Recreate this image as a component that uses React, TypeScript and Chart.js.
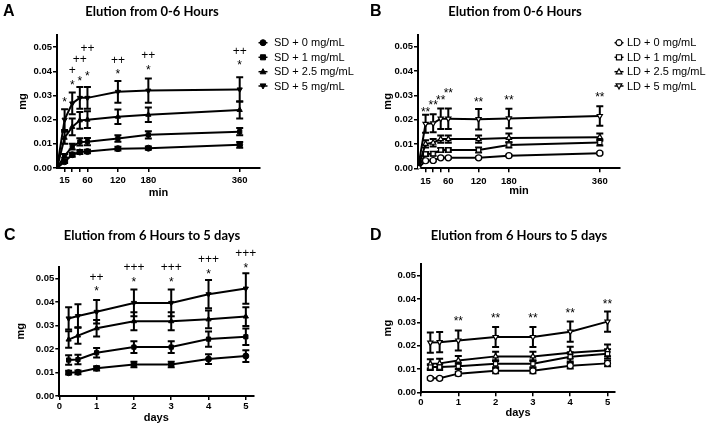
import React, { useEffect, useRef } from "react";
import { Chart, registerables } from "chart.js";
Chart.register(...registerables);

// ---------- data ----------
const minutes = [0, 15, 30, 45, 60, 120, 180, 360];
const minuteTicks = [15, 30, 45, 60, 120, 180, 360];
const minuteLabels = [15, 60, 120, 180, 360];
const days = [0.25, 0.5, 1, 2, 3, 4, 5];
const dayTicks = [0, 1, 2, 3, 4, 5];
const dayLabels = [0, 1, 2, 3, 4, 5];
const mgTicks = [0, 0.01, 0.02, 0.03, 0.04, 0.05];

const sdLabels = ["SD + 0 mg/mL", "SD + 1 mg/mL", "SD + 2.5 mg/mL", "SD + 5 mg/mL"];
const ldLabels = ["LD + 0 mg/mL", "LD + 1 mg/mL", "LD + 2.5 mg/mL", "LD + 5 mg/mL"];

// Panel A (SD, 0-6 h)
const aSD0 = [0, 0.0026, 0.0055, 0.0066, 0.0068, 0.008, 0.0082, 0.0096];
const aSD1 = [0, 0.005, 0.0088, 0.0108, 0.0109, 0.0122, 0.0137, 0.015];
const aSD25 = [0, 0.0125, 0.017, 0.0197, 0.02, 0.0212, 0.022, 0.024];
const aSD5 = [0, 0.02, 0.0267, 0.029, 0.029, 0.0315, 0.032, 0.0325];
const aSD0err = [0, 0.0005, 0.0008, 0.0008, 0.0007, 0.0008, 0.0007, 0.0012];
const aSD1err = [0, 0.0008, 0.0012, 0.0015, 0.0015, 0.0013, 0.0015, 0.0015];
const aSD25err = [0, 0.0025, 0.0035, 0.0035, 0.0035, 0.003, 0.003, 0.0035];
const aSD5err = [0, 0.0043, 0.0045, 0.0045, 0.0045, 0.0045, 0.005, 0.005];
const annAx = [15, 30, 30, 45, 45, 60, 60, 120, 120, 180, 180, 360, 360];
const annAy = [0.0285, 0.0357, 0.0408, 0.0371, 0.0453, 0.0394, 0.0497, 0.0402, 0.045, 0.0419, 0.0471, 0.0439, 0.0485];
const annAt = ["*", "*", "+", "*", "++", "*", "++", "*", "++", "*", "++", "*", "++"];

// Panel B (LD, 0-6 h)
const bLD0 = [0, 0.0031, 0.0032, 0.0043, 0.0043, 0.0043, 0.0052, 0.0062];
const bLD1 = [0, 0.0059, 0.006, 0.0075, 0.0075, 0.0075, 0.0096, 0.0106];
const bLD25 = [0, 0.01, 0.0105, 0.012, 0.012, 0.012, 0.0125, 0.0128];
const bLD5 = [0, 0.0183, 0.0185, 0.0204, 0.0204, 0.0202, 0.0205, 0.0215];
const bLD0err = [0, 0.0004, 0.0004, 0.0004, 0.0004, 0.0004, 0.0004, 0.0004];
const bLD1err = [0, 0.0008, 0.0008, 0.0008, 0.0008, 0.001, 0.001, 0.0012];
const bLD25err = [0, 0.0015, 0.0015, 0.0015, 0.0015, 0.0015, 0.0018, 0.0015];
const bLD5err = [0, 0.0037, 0.0037, 0.0042, 0.0042, 0.0042, 0.004, 0.004];
const annBx = [15, 30, 45, 60, 120, 180, 360];
const annBy = [0.0244, 0.0271, 0.0295, 0.0322, 0.0284, 0.0292, 0.0305];
const annBt = ["**", "**", "**", "**", "**", "**", "**"];

// Panel C (SD, 6 h - 5 d)
const cSD0 = [0.0099, 0.0101, 0.0118, 0.0134, 0.0134, 0.0157, 0.017];
const cSD1 = [0.0153, 0.0155, 0.0184, 0.0208, 0.0208, 0.0242, 0.0252];
const cSD25 = [0.024, 0.0257, 0.0288, 0.0318, 0.0318, 0.0326, 0.0338];
const cSD5 = [0.033, 0.034, 0.0358, 0.0396, 0.0396, 0.0433, 0.0457];
const cSD0err = [0.0008, 0.0008, 0.0009, 0.0012, 0.0012, 0.0021, 0.0025];
const cSD1err = [0.002, 0.002, 0.002, 0.0025, 0.0025, 0.0032, 0.0035];
const cSD25err = [0.0035, 0.0035, 0.0035, 0.0038, 0.0038, 0.0038, 0.004];
const cSD5err = [0.0047, 0.005, 0.005, 0.0057, 0.0057, 0.006, 0.0065];
const annCx = [1, 1, 2, 2, 3, 3, 4, 4, 5, 5];
const annCy = [0.0458, 0.051, 0.0496, 0.055, 0.0496, 0.055, 0.0533, 0.0583, 0.0557, 0.0611];
const annCt = ["*", "++", "*", "+++", "*", "+++", "*", "+++", "*", "+++"];

// Panel D (LD, 6 h - 5 d)
const dLD0 = [0.006, 0.006, 0.008, 0.0092, 0.0092, 0.0114, 0.0124];
const dLD1 = [0.0108, 0.0108, 0.0112, 0.0122, 0.0122, 0.0152, 0.0165];
const dLD25 = [0.0122, 0.0124, 0.0136, 0.0154, 0.0154, 0.017, 0.018];
const dLD5 = [0.0213, 0.0215, 0.0222, 0.0237, 0.0237, 0.026, 0.0303];
const dLD0err = [0.0005, 0.0005, 0.0008, 0.001, 0.001, 0.0012, 0.0012];
const dLD1err = [0.0012, 0.0012, 0.0012, 0.0015, 0.0015, 0.002, 0.002];
const dLD25err = [0.002, 0.002, 0.002, 0.002, 0.002, 0.0025, 0.0025];
const dLD5err = [0.0043, 0.0043, 0.0043, 0.0043, 0.0043, 0.0043, 0.0043];
const annDx = [1, 2, 3, 4, 5];
const annDy = [0.0318, 0.0332, 0.0332, 0.0353, 0.0393];
const annDt = ["**", "**", "**", "**", "**"];

// ---------- styling ----------
const SANS = 'Arial, "Liberation Sans", sans-serif';
const TITLE_FONT = 'bold 13px Lato, "Open Sans", sans-serif';
const STYLES = ["circle", "rect", "triangle", "triangle"];
const ROTS = [0, 0, 0, 180];

interface Panel {
  letter: string; letterX: number; letterY: number;
  title: string; titleX: number; titleY: number;
  xs: number[]; series: number[][]; errs: number[][]; labels: string[]; open: boolean;
  xMax: number; xTicks: number[]; xLabels: number[]; xTitle: string;
  width: number; height: number;
  area: { left: number; right: number; top: number; bottom: number };
  xTitlePad: number; yTitlePad: number; xTickPad: number;
  legend: null | { iconX: number; textX: number; rows: number[] };
  annX: number[]; annY: number[]; annT: string[];
}

const panels: { left: number; top: number; p: Panel }[] = [
  {
    left: 0, top: 0,
    p: {
      letter: "A", letterX: 3, letterY: 16, title: "Elution from 0-6 Hours", titleX: 152, titleY: 16,
      xs: minutes, series: [aSD0, aSD1, aSD25, aSD5], errs: [aSD0err, aSD1err, aSD25err, aSD5err],
      labels: sdLabels, open: false, xMax: 400, xTicks: minuteTicks, xLabels: minuteLabels, xTitle: "min",
      width: 356, height: 210, area: { left: 57, right: 260, top: 35, bottom: 168 },
      xTitlePad: 10.4, yTitlePad: 16.4, xTickPad: 3,
      legend: { iconX: 263, textX: 274, rows: [42.7, 57.3, 71.7, 86] },
      annX: annAx, annY: annAy, annT: annAt,
    },
  },
  {
    left: 356, top: 0,
    p: {
      letter: "B", letterX: 14, letterY: 16, title: "Elution from 0-6 Hours", titleX: 159, titleY: 16,
      xs: minutes, series: [bLD0, bLD1, bLD25, bLD5], errs: [bLD0err, bLD1err, bLD25err, bLD5err],
      labels: ldLabels, open: true, xMax: 400, xTicks: minuteTicks, xLabels: minuteLabels, xTitle: "min",
      width: 356, height: 210, area: { left: 62, right: 264, top: 34.5, bottom: 168.3 },
      xTitlePad: 12.4, yTitlePad: 25.4, xTickPad: 3,
      legend: { iconX: 263, textX: 271, rows: [42.7, 57.3, 71.7, 86] },
      annX: annBx, annY: annBy, annT: annBt,
    },
  },
  {
    left: 0, top: 210,
    p: {
      letter: "C", letterX: 4, letterY: 29.5, title: "Elution from 6 Hours to 5 days", titleX: 152, titleY: 29.5,
      xs: days, series: [cSD0, cSD1, cSD25, cSD5], errs: [cSD0err, cSD1err, cSD25err, cSD5err],
      labels: sdLabels, open: false, xMax: 5.2, xTicks: dayTicks, xLabels: dayLabels, xTitle: "days",
      width: 356, height: 217, area: { left: 59.3, right: 253.3, top: 56.7, bottom: 186 },
      xTitlePad: 2.4, yTitlePad: 14.4, xTickPad: 1,
      legend: null,
      annX: annCx, annY: annCy, annT: annCt,
    },
  },
  {
    left: 356, top: 210,
    p: {
      letter: "D", letterX: 14, letterY: 29.5, title: "Elution from 6 Hours to 5 days", titleX: 163, titleY: 29.5,
      xs: days, series: [dLD0, dLD1, dLD25, dLD5], errs: [dLD0err, dLD1err, dLD25err, dLD5err],
      labels: ldLabels, open: true, xMax: 5.2, xTicks: dayTicks, xLabels: dayLabels, xTitle: "days",
      width: 356, height: 217, area: { left: 65, right: 259, top: 54, bottom: 182.3 },
      xTitlePad: 7.4, yTitlePad: 25.4, xTickPad: 0,
      legend: null,
      annX: annDx, annY: annDy, annT: annDt,
    },
  },
];

function drawMarker(ctx: CanvasRenderingContext2D, style: string, rot: number, x: number, y: number, open: boolean) {
  ctx.save();
  ctx.fillStyle = open ? "#fff" : "#000";
  ctx.strokeStyle = "#000";
  ctx.lineWidth = open ? 1.2 : 1;
  ctx.translate(x, y);
  ctx.rotate((rot * Math.PI) / 180);
  const r = 3;
  ctx.beginPath();
  if (style === "circle") ctx.arc(0, 0, r, 0, Math.PI * 2);
  else if (style === "rect") ctx.rect(-r * 0.85, -r * 0.85, r * 1.7, r * 1.7);
  else {
    ctx.moveTo(0, -r);
    ctx.lineTo(r * 0.95, r * 0.7);
    ctx.lineTo(-r * 0.95, r * 0.7);
    ctx.closePath();
  }
  ctx.fill();
  ctx.stroke();
  ctx.restore();
}

function buildChart(canvas: HTMLCanvasElement, p: Panel) {
  const datasets = p.series.map((vals, i) => ({
    label: p.labels[i],
    data: p.xs.map((x, j) => ({ x, y: vals[j] })),
    errors: p.errs[i],
    borderColor: "#000",
    borderWidth: 2,
    pointStyle: STYLES[i],
    pointRotation: ROTS[i],
    pointRadius: 3,
    pointBackgroundColor: p.open ? "#fff" : "#000",
    pointBorderColor: "#000",
    pointBorderWidth: p.open ? 1.2 : 1,
    tension: 0,
    fill: false,
  }));

  const errPlugin = {
    id: "errbars",
    beforeDatasetsDraw(chart: any) {
      const ctx = chart.ctx;
      const xs = chart.scales.x;
      const ys = chart.scales.y;
      ctx.save();
      ctx.strokeStyle = "#000";
      ctx.lineWidth = 2;
      chart.data.datasets.forEach((ds: any) => {
        ds.data.forEach((pt: any, j: number) => {
          const e = ds.errors[j];
          if (!e) return;
          const x = xs.getPixelForValue(pt.x);
          const y1 = ys.getPixelForValue(pt.y - e);
          const y2 = ys.getPixelForValue(pt.y + e);
          ctx.beginPath();
          ctx.moveTo(x, y1);
          ctx.lineTo(x, y2);
          ctx.moveTo(x - 3.5, y1);
          ctx.lineTo(x + 3.5, y1);
          ctx.moveTo(x - 3.5, y2);
          ctx.lineTo(x + 3.5, y2);
          ctx.stroke();
        });
      });
      ctx.restore();
    },
  };

  const decorPlugin = {
    id: "decor",
    afterDraw(chart: any) {
      const ctx = chart.ctx;
      const xs = chart.scales.x;
      const ys = chart.scales.y;
      ctx.save();
      ctx.fillStyle = "#000";
      // panel letter
      ctx.font = `bold 16px ${SANS}`;
      ctx.textAlign = "left";
      ctx.textBaseline = "alphabetic";
      ctx.fillText(p.letter, p.letterX, p.letterY);
      // title
      ctx.font = TITLE_FONT;
      ctx.textAlign = "center";
      ctx.fillText(p.title, p.titleX, p.titleY);
      // legend
      if (p.legend) {
        const lg = p.legend;
        ctx.font = `11px ${SANS}`;
        ctx.textAlign = "left";
        ctx.textBaseline = "middle";
        p.labels.forEach((lab, i) => {
          const y = lg.rows[i];
          ctx.strokeStyle = "#000";
          ctx.lineWidth = 1.5;
          ctx.beginPath();
          ctx.moveTo(lg.iconX - 4.5, y);
          ctx.lineTo(lg.iconX + 4.5, y);
          ctx.stroke();
          drawMarker(ctx, STYLES[i], ROTS[i], lg.iconX, y, p.open);
          ctx.fillStyle = "#000";
          ctx.fillText(lab, lg.textX, y + 0.5);
        });
      }
      // significance annotations
      ctx.font = `12px ${SANS}`;
      ctx.textAlign = "center";
      ctx.textBaseline = "alphabetic";
      p.annT.forEach((t, i) => {
        const x = xs.getPixelForValue(p.annX[i]);
        const y = ys.getPixelForValue(p.annY[i]);
        const off = t.includes("*") ? 7 : 4.5;
        ctx.fillText(t, x, y + off);
      });
      ctx.restore();
    },
  };

  return new Chart(canvas, {
    type: "line",
    data: { datasets } as any,
    options: {
      responsive: false,
      animation: false,
      devicePixelRatio: 1,
      layout: {
        padding: { left: 0, top: p.area.top, right: p.width - p.area.right, bottom: 0 },
      },
      plugins: {
        legend: { display: false },
        tooltip: { enabled: false },
        title: { display: false },
      },
      scales: {
        x: {
          type: "linear",
          min: 0,
          max: p.xMax,
          afterBuildTicks: (s: any) => {
            s.ticks = p.xTicks.map((v) => ({ value: v }));
          },
          afterFit: (s: any) => {
            s.height = p.height - p.area.bottom;
          },
          ticks: {
            autoSkip: false,
            maxRotation: 0,
            padding: p.xTickPad,
            color: "#000",
            font: { family: SANS, size: 9.5, weight: "bold" },
            callback: (v: any) => (p.xLabels.includes(Number(v)) ? String(v) : ""),
          },
          grid: { display: true, drawOnChartArea: false, drawTicks: true, tickLength: 4, color: "#000", lineWidth: 1.5 },
          border: { display: true, color: "#000", width: 2 },
          title: {
            display: true,
            text: p.xTitle,
            color: "#000",
            font: { family: SANS, size: 11, weight: "bold" },
            padding: { top: 0, bottom: p.xTitlePad },
          },
        },
        y: {
          type: "linear",
          min: 0,
          max: 0.055,
          afterBuildTicks: (s: any) => {
            s.ticks = mgTicks.map((v) => ({ value: v }));
          },
          afterFit: (s: any) => {
            s.width = p.area.left;
          },
          ticks: {
            padding: 1,
            color: "#000",
            font: { family: SANS, size: 9.5, weight: "bold" },
            callback: (v: any) => Number(v).toFixed(2),
          },
          grid: { display: true, drawOnChartArea: false, drawTicks: true, tickLength: 4, color: "#000", lineWidth: 1.5 },
          border: { display: true, color: "#000", width: 2 },
          title: {
            display: true,
            text: "mg",
            color: "#000",
            font: { family: SANS, size: 11, weight: "bold" },
            padding: { top: p.yTitlePad, bottom: 0 },
          },
        },
      },
    } as any,
    plugins: [errPlugin, decorPlugin] as any,
  });
}

function PanelChart({ left, top, p }: { left: number; top: number; p: Panel }) {
  const ref = useRef<HTMLCanvasElement | null>(null);
  useEffect(() => {
    if (!ref.current) return;
    const chart = buildChart(ref.current, p);
    let alive = true;
    if ((document as any).fonts?.ready) {
      (document as any).fonts.ready.then(() => {
        if (alive) chart.update();
      });
    }
    return () => {
      alive = false;
      chart.destroy();
    };
  }, [p]);
  return (
    <canvas
      ref={ref}
      width={p.width}
      height={p.height}
      style={{ position: "absolute", left, top, width: p.width, height: p.height, display: "block" }}
    />
  );
}

export default function App() {
  return (
    <div style={{ position: "fixed", left: 0, top: 0, width: 712, height: 427, background: "#fff", overflow: "hidden" }}>
      {panels.map((pn, i) => (
        <PanelChart key={i} left={pn.left} top={pn.top} p={pn.p} />
      ))}
    </div>
  );
}
